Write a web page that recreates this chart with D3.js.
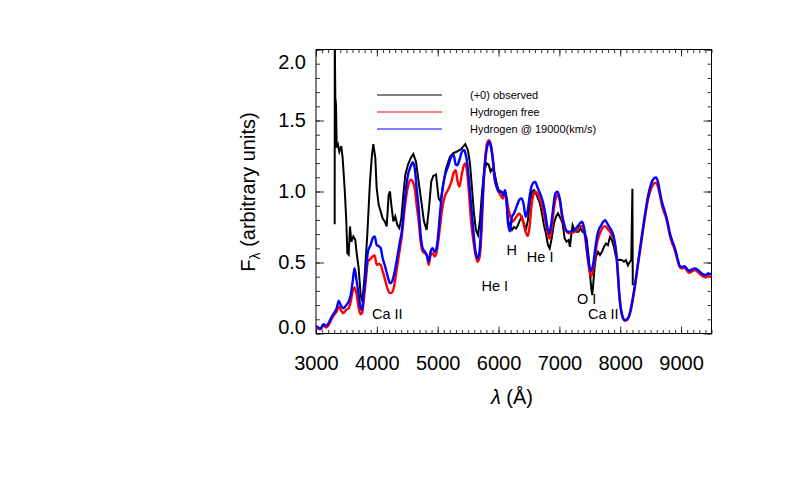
<!DOCTYPE html>
<html>
<head>
<meta charset="utf-8">
<script src="https://cdn.jsdelivr.net/npm/d3@7"></script>
<style>
  body { margin: 0; background: white; }
  text { font-family: 'Liberation Sans', Arial, Helvetica, sans-serif; }
</style>
</head>
<body>
<div id="chart"></div>
<script>
// Observed spectrum (black)
const obsWave = [3307, 3308, 3318, 3329, 3340, 3361, 3383, 3416, 3438, 3471, 3498, 3515, 3537, 3559, 3580, 3613,
  3646, 3668, 3701, 3734, 3761, 3800, 3843, 3887, 3920, 3942, 3975, 3997, 4030, 4063, 4096, 4129, 4162, 4194,
  4216, 4238, 4271, 4303, 4336, 4369, 4402, 4435, 4468, 4512, 4556, 4600, 4643, 4687, 4731, 4774, 4818, 4862,
  4894, 4927, 4972, 5016, 5049, 5082, 5136, 5202, 5256, 5311, 5382, 5453, 5497, 5530, 5563, 5596, 5629, 5662,
  5695, 5727, 5765, 5805, 5837, 5870, 5903, 5936, 5969, 6002, 6045, 6078, 6111, 6133, 6155, 6188, 6220, 6253,
  6286, 6319, 6352, 6385, 6418, 6450, 6483, 6516, 6549, 6582, 6615, 6648, 6680, 6713, 6746, 6779, 6812, 6840,
  6878, 6911, 6944, 6977, 7020, 7053, 7086, 7118, 7152, 7173, 7195, 7217, 7250, 7283, 7316, 7349, 7382, 7415,
  7448, 7481, 7502, 7524, 7540, 7557, 7580, 7601, 7634, 7667, 7700, 7732, 7765, 7798, 7831, 7863, 7896, 7929,
  7962, 7995, 8028, 8061, 8094, 8126, 8159, 8181, 8200, 8206];
const obsFlux = [0.77, 2.10, 1.66, 1.61, 1.31, 1.33, 1.28, 1.32, 1.235, 1.02, 0.79, 0.566, 0.555, 0.754, 0.646, 0.683,
  0.66, 0.566, 0.46, 0.272, 0.225, 0.41, 0.695, 1.07, 1.26, 1.334, 1.235, 1.024, 0.906, 0.86, 0.81, 0.79, 0.754, 0.977,
  1.0, 0.906, 0.79, 0.825, 0.765, 0.742, 0.81, 0.977, 1.118, 1.19, 1.235, 1.264, 1.21, 1.07, 0.93, 0.79, 0.73, 0.906,
  1.07, 1.11, 1.12, 0.95, 0.93, 1.03, 1.16, 1.245, 1.27, 1.28, 1.297, 1.334, 1.29, 1.2, 1.03, 0.846, 0.728, 0.693,
  0.80, 0.987, 1.15, 1.198, 1.19, 1.14, 1.163, 1.128, 1.057, 1.01, 1.0, 0.975, 0.998, 0.916, 0.80, 0.751, 0.728, 0.751,
  0.74, 0.763, 0.80, 0.82, 0.775, 0.728, 0.80, 0.916, 0.998, 1.01, 0.987, 0.951, 0.916, 0.846, 0.763, 0.705, 0.622, 0.599,
  0.68, 0.775, 0.822, 0.846, 0.81, 0.775, 0.67, 0.646, 0.658, 0.61, 0.693, 0.763, 0.728, 0.716, 0.716, 0.74, 0.716, 0.705,
  0.67, 0.54, 0.423, 0.317, 0.27, 0.352, 0.47, 0.54, 0.575, 0.552, 0.575, 0.61, 0.634, 0.622, 0.68, 0.658, 0.61, 0.54,
  0.517, 0.52, 0.517, 0.505, 0.517, 0.48, 0.505, 0.517, 1.02, 0.34];

// Model spectra share one wavelength grid
const modelWave = [3000, 3033, 3077, 3120, 3164, 3208, 3251, 3296, 3340, 3373, 3406, 3449, 3493, 3537, 3570, 3603,
  3633, 3669, 3702, 3734, 3756, 3789, 3822, 3854, 3899, 3932, 3965, 3997, 4030, 4063, 4096, 4129, 4172, 4216, 4249,
  4282, 4314, 4347, 4380, 4413, 4446, 4479, 4512, 4556, 4589, 4622, 4654, 4687, 4720, 4753, 4786, 4819, 4852, 4885,
  4917, 4950, 4980, 5005, 5038, 5071, 5115, 5169, 5224, 5262, 5296, 5323, 5355, 5399, 5432, 5455, 5486, 5519, 5552,
  5585, 5618, 5655, 5690, 5722, 5755, 5788, 5820, 5848, 5880, 5910, 5936, 5969, 6002, 6045, 6078, 6105, 6130, 6155,
  6188, 6220, 6255, 6295, 6340, 6374, 6410, 6445, 6480, 6510, 6540, 6571, 6604, 6637, 6670, 6702, 6735, 6768, 6801,
  6834, 6867, 6900, 6933, 6970, 7010, 7042, 7075, 7119, 7162, 7207, 7250, 7294, 7338, 7370, 7403, 7436, 7469, 7502,
  7523, 7557, 7590, 7623, 7656, 7689, 7721, 7754, 7787, 7820, 7853, 7886, 7919, 7941, 7962, 7984, 8007, 8040, 8073,
  8106, 8139, 8181, 8237, 8291, 8345, 8401, 8455, 8510, 8554, 8587, 8620, 8652, 8685, 8718, 8751, 8784, 8817, 8850,
  8882, 8915, 8948, 8981, 9014, 9058, 9091, 9134, 9179, 9223, 9267, 9311, 9355, 9399, 9443, 9500];

// Hydrogen free (red)
const freeFlux = [0.04, 0.035, 0.03, 0.056, 0.042, 0.06, 0.096, 0.13, 0.155, 0.19, 0.166, 0.143, 0.166, 0.178, 0.225, 0.296,
  0.324, 0.272, 0.178, 0.136, 0.143, 0.249, 0.39, 0.507, 0.526, 0.543, 0.55, 0.483, 0.49, 0.483, 0.437, 0.39, 0.319, 0.284, 0.29,
  0.33, 0.413, 0.507, 0.60, 0.695, 0.836, 0.953, 1.036, 1.083, 1.07, 1.024, 0.906, 0.79, 0.648, 0.578, 0.566, 0.554, 0.483, 0.554,
  0.566, 0.543, 0.568, 0.634, 0.751, 0.869, 0.963, 1.01, 1.068, 1.13, 1.15, 1.08, 1.033, 1.128, 1.186, 1.198, 1.128, 0.963, 0.775,
  0.658, 0.564, 0.505, 0.54, 0.728, 1.057, 1.268, 1.35, 1.362, 1.315, 1.198, 1.08, 1.033, 0.998, 0.963, 0.951, 0.998, 0.963, 0.892,
  0.834, 0.787, 0.798, 0.822, 0.846, 0.822, 0.775, 0.716, 0.686, 0.751, 0.892, 0.975, 0.998, 0.987, 0.951, 0.916, 0.869, 0.798, 0.728,
  0.669, 0.716, 0.846, 0.94, 0.975, 0.93, 0.822, 0.763, 0.716, 0.705, 0.71, 0.716, 0.733, 0.756, 0.756, 0.728, 0.634, 0.517, 0.423,
  0.404, 0.458, 0.552, 0.646, 0.693, 0.728, 0.751, 0.756, 0.74, 0.723, 0.70, 0.669, 0.605, 0.528, 0.41, 0.27, 0.176, 0.113, 0.09,
  0.094, 0.113, 0.176, 0.317, 0.481, 0.64, 0.80, 0.94, 1.022, 1.057, 1.061, 1.033, 0.975, 0.904, 0.857, 0.817, 0.756, 0.686, 0.64,
  0.605, 0.559, 0.505, 0.465, 0.458, 0.465, 0.446, 0.427, 0.437, 0.446, 0.437, 0.418, 0.404, 0.395, 0.404, 0.399];

// Hydrogen @ 19000 km/s (blue)
const hydroFlux = [0.056, 0.042, 0.037, 0.066, 0.054, 0.073, 0.113, 0.143, 0.178, 0.23, 0.2, 0.178, 0.197, 0.225, 0.272, 0.366,
  0.46, 0.366, 0.272, 0.178, 0.166, 0.296, 0.437, 0.578, 0.624, 0.672, 0.684, 0.624, 0.615, 0.601, 0.53, 0.483, 0.413, 0.354, 0.366,
  0.413, 0.483, 0.566, 0.648, 0.73, 0.883, 1.024, 1.118, 1.177, 1.207, 1.165, 1.024, 0.883, 0.695, 0.601, 0.578, 0.554, 0.507, 0.578,
  0.60, 0.575, 0.60, 0.68, 0.846, 0.987, 1.104, 1.174, 1.245, 1.257, 1.19, 1.185, 1.22, 1.28, 1.292, 1.27, 1.198, 1.057, 0.892,
  0.728, 0.587, 0.528, 0.587, 0.822, 1.08, 1.245, 1.327, 1.35, 1.304, 1.221, 1.104, 1.033, 0.998, 0.998, 0.975, 1.01, 0.94, 0.78,
  0.72, 0.822, 0.846, 0.892, 0.94, 0.951, 0.916, 0.822, 0.869, 0.963, 1.033, 1.061, 1.068, 1.033, 0.998, 0.963, 0.916, 0.846, 0.751,
  0.705, 0.775, 0.892, 0.987, 0.998, 0.94, 0.846, 0.775, 0.723, 0.716, 0.723, 0.728, 0.751, 0.775, 0.787, 0.751, 0.658, 0.54, 0.458,
  0.441, 0.493, 0.599, 0.693, 0.74, 0.763, 0.787, 0.798, 0.775, 0.751, 0.728, 0.693, 0.622, 0.54, 0.423, 0.282, 0.187, 0.117, 0.094,
  0.099, 0.117, 0.19, 0.329, 0.493, 0.658, 0.822, 0.963, 1.057, 1.092, 1.099, 1.068, 0.998, 0.927, 0.881, 0.834, 0.775, 0.705, 0.658,
  0.622, 0.575, 0.517, 0.474, 0.469, 0.474, 0.458, 0.441, 0.451, 0.458, 0.451, 0.434, 0.418, 0.411, 0.423, 0.418];

// Ticks, legend and line identifications
const xMajorTicks = [3000, 4000, 5000, 6000, 7000, 8000, 9000];
const yMajorTicks = [0.0, 0.5, 1.0, 1.5, 2.0];
const legendLabels = ['(+0) observed', 'Hydrogen free', 'Hydrogen @ 19000(km/s)'];
const legendColors = ['black', 'red', 'blue'];
const lineIds = ['Ca II', 'He I', 'H', 'He I', 'O I', 'Ca II'];
const lineIdWave = [3920, 5720, 6130, 6465, 7290, 7470];
const lineIdFlux = [0.10, 0.30, 0.55, 0.505, 0.205, 0.10];

let width = 789,
    height = 484;

let margin = {
  top: 49.5,
  bottom: 484 - 333.5,
  left: 316,
  right: 789 - 711.5
};

let svg = d3.select('#chart')
            .append('svg')
            .attr('width', width)
            .attr('height', height)
            .style('background', 'white');

let xScale = d3.scaleLinear()
               .domain([3000, 9500])
               .range([margin.left, width - margin.right]);

let yScale = d3.scaleLinear()
               .domain([0, 2.0])
               .range([height - margin.bottom, margin.top]);

const minorX = d3.range(3000, 9501, 100);
const minorY = d3.range(0, 2.001, 0.1);

// Minor ticks on all four sides
svg.append('g')
   .attr('transform', `translate(0, ${height - margin.bottom})`)
   .call(d3.axisBottom(xScale).tickValues(minorX).tickSize(-3.5).tickFormat(''));
svg.append('g')
   .attr('transform', `translate(0, ${margin.top})`)
   .call(d3.axisTop(xScale).tickValues(minorX).tickSize(-3.5).tickFormat(''));
svg.append('g')
   .attr('transform', `translate(${margin.left}, 0)`)
   .call(d3.axisLeft(yScale).tickValues(minorY).tickSize(-4).tickFormat(''));
svg.append('g')
   .attr('transform', `translate(${width - margin.right}, 0)`)
   .call(d3.axisRight(yScale).tickValues(minorY).tickSize(-4).tickFormat(''));

// Major ticks with labels
let xAxis = svg.append('g')
   .attr('transform', `translate(0, ${height - margin.bottom})`)
   .call(d3.axisBottom(xScale).tickValues(xMajorTicks).tickSize(-7).tickPadding(22).tickFormat(d => d));
svg.append('g')
   .attr('transform', `translate(0, ${margin.top})`)
   .call(d3.axisTop(xScale).tickValues(xMajorTicks).tickSize(-7).tickFormat(''));
let yAxis = svg.append('g')
   .attr('transform', `translate(${margin.left}, 0)`)
   .call(d3.axisLeft(yScale).tickValues(yMajorTicks).tickSize(-8).tickPadding(10).tickFormat(d3.format('.1f')));
svg.append('g')
   .attr('transform', `translate(${width - margin.right}, 0)`)
   .call(d3.axisRight(yScale).tickValues(yMajorTicks).tickSize(-8).tickFormat(''));

svg.selectAll('.domain').remove();
svg.selectAll('.tick line').attr('stroke', 'black').attr('stroke-width', 0.8);
svg.selectAll('.tick text')
   .attr('fill', 'black')
   .style('font-family', "'Liberation Sans', Arial, sans-serif")
   .style('font-size', '20px');

// End labels sit inside the box, as in the original
yAxis.selectAll('.tick text').filter(d => d === 2.0).attr('dy', '0.95em');
yAxis.selectAll('.tick text').filter(d => d === 0.0).attr('dy', '0.02em');

// Frame
svg.append('rect')
   .attr('x', margin.left)
   .attr('y', margin.top)
   .attr('width', width - margin.left - margin.right)
   .attr('height', height - margin.top - margin.bottom)
   .attr('fill', 'none')
   .attr('stroke', 'black')
   .attr('stroke-width', 1);

// Clip the spectra to the plot box
svg.append('clipPath')
   .attr('id', 'plotclip')
   .append('rect')
   .attr('x', margin.left)
   .attr('y', margin.top)
   .attr('width', width - margin.left - margin.right)
   .attr('height', height - margin.top - margin.bottom);

const obsLine = d3.line()
                  .x((d, i) => xScale(obsWave[i]))
                  .y(d => yScale(d));

const modelLine = d3.line()
                    .x((d, i) => xScale(modelWave[i]))
                    .y(d => yScale(d))
                    .curve(d3.curveMonotoneX);

let plot = svg.append('g').attr('clip-path', 'url(#plotclip)');

plot.append('path')
    .attr('d', obsLine(obsFlux))
    .attr('fill', 'none')
    .attr('stroke', 'black')
    .attr('stroke-width', 2);

plot.append('path')
    .attr('d', modelLine(freeFlux))
    .attr('fill', 'none')
    .attr('stroke', 'red')
    .attr('stroke-width', 2.4);

plot.append('path')
    .attr('d', modelLine(hydroFlux))
    .attr('fill', 'none')
    .attr('stroke', 'blue')
    .attr('stroke-width', 2.4);

// Legend
const legend = svg.selectAll('.legend')
                  .data(legendLabels)
                  .enter().append('g')
                  .attr('class', 'legend')
                  .attr('transform', (d, i) => 'translate(377,' + (95 + i * 17) + ')');

legend.append('line')
      .attr('x1', 0)
      .attr('x2', 65)
      .attr('stroke', (d, i) => legendColors[i])
      .attr('stroke-width', 1);

legend.append('text')
      .attr('x', 93)
      .attr('y', 4)
      .style('font-size', '11px')
      .text(d => d);

// Line identifications
svg.selectAll('.lineid')
   .data(lineIds)
   .enter().append('text')
   .attr('class', 'lineid')
   .attr('x', (d, i) => xScale(lineIdWave[i]))
   .attr('y', (d, i) => yScale(lineIdFlux[i]))
   .style('font-size', '14.5px')
   .text(d => d);

// x-axis label
svg.append('text')
   .attr('x', 512)
   .attr('y', 404)
   .style('text-anchor', 'middle')
   .style('font-size', '20px')
   .html('<tspan font-style="italic">λ</tspan> (Å)');

// y-axis label
svg.append('text')
   .attr('transform', 'translate(255, 192) rotate(-90)')
   .style('text-anchor', 'middle')
   .style('font-size', '20px')
   .html('F<tspan font-size="14px" dy="5">λ</tspan><tspan dy="-5"> (arbitrary units)</tspan>');
</script>
</body>
</html>
